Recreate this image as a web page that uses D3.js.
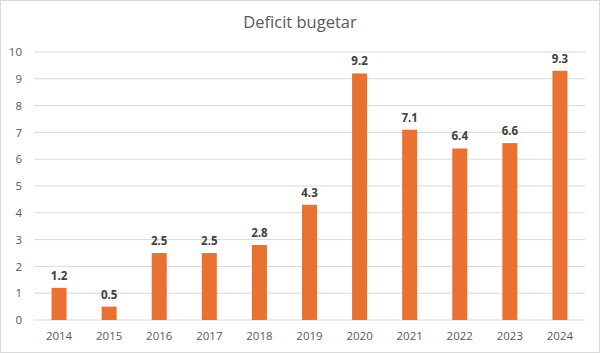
<!DOCTYPE html>
<html>
<head>
<meta charset="utf-8">
<script src="https://cdn.jsdelivr.net/npm/d3@7"></script>
<style>
  body { margin: 0; background: #fff; }
  svg { display: block; font-family: "Open Sans", "Liberation Sans", sans-serif; }
</style>
</head>
<body>
<div id="chart"></div>
<script>
const years = ["2014", "2015", "2016", "2017", "2018", "2019", "2020", "2021", "2022", "2023", "2024"];
const deficit = [1.2, 0.5, 2.5, 2.5, 2.8, 4.3, 9.2, 7.1, 6.4, 6.6, 9.3];
const yTicks = [0, 1, 2, 3, 4, 5, 6, 7, 8, 9, 10];

const W = 600, H = 353;
const margin = { top: 52, right: 15, bottom: 33, left: 34 };
const width = W - margin.left - margin.right;
const height = H - margin.top - margin.bottom;

const svg = d3.select("#chart").append("svg")
    .attr("width", W)
    .attr("height", H);

svg.append("rect")
    .attr("x", 0.5).attr("y", 0.5)
    .attr("width", W - 1).attr("height", H - 1)
    .attr("fill", "#fff")
    .attr("stroke", "#d9d9d9");

svg.append("text")
    .attr("x", W / 2).attr("y", 28)
    .attr("text-anchor", "middle")
    .attr("font-size", 16.5)
    .attr("fill", "#595959")
    .text("Deficit bugetar");

const g = svg.append("g").attr("transform", "translate(" + margin.left + "," + margin.top + ")");

const x = d3.scaleBand().domain(years).range([0, width]).paddingInner(0.7).paddingOuter(0.35);
const y = d3.scaleLinear().domain([0, 10]).range([height, 0]);

// gridlines
g.append("g")
    .selectAll("line")
    .data(yTicks)
    .join("line")
    .attr("x1", 0).attr("x2", width)
    .attr("y1", d => y(d)).attr("y2", d => y(d))
    .attr("stroke", "#d9d9d9")
    .attr("stroke-width", 1);

// y axis labels
const yAxis = g.append("g")
    .call(d3.axisLeft(y).tickValues(yTicks).tickSize(0).tickPadding(12));
yAxis.select(".domain").remove();
yAxis.selectAll("text").attr("font-size", 11.5).attr("fill", "#595959")
    .attr("font-family", "\"Open Sans\", sans-serif");

// x axis labels
const xAxis = g.append("g")
    .attr("transform", "translate(0," + height + ")")
    .call(d3.axisBottom(x).tickSize(0).tickPadding(12));
xAxis.select(".domain").remove();
xAxis.selectAll("text").attr("font-size", 11.5).attr("fill", "#595959")
    .attr("font-family", "\"Open Sans\", sans-serif");

// bars
g.selectAll(".bar")
    .data(deficit)
    .join("rect")
    .attr("class", "bar")
    .attr("x", (d, i) => x(years[i]))
    .attr("y", d => y(d))
    .attr("width", x.bandwidth())
    .attr("height", d => height - y(d))
    .attr("fill", "#e97132");

// value labels
g.selectAll(".lbl")
    .data(deficit)
    .join("text")
    .attr("class", "lbl")
    .attr("x", (d, i) => x(years[i]) + x.bandwidth() / 2)
    .attr("y", d => y(d) - 8)
    .attr("text-anchor", "middle")
    .attr("font-size", 11.5)
    .attr("font-weight", "bold")
    .attr("fill", "#404040")
    .text(d => d.toFixed(1));
</script>
</body>
</html>
